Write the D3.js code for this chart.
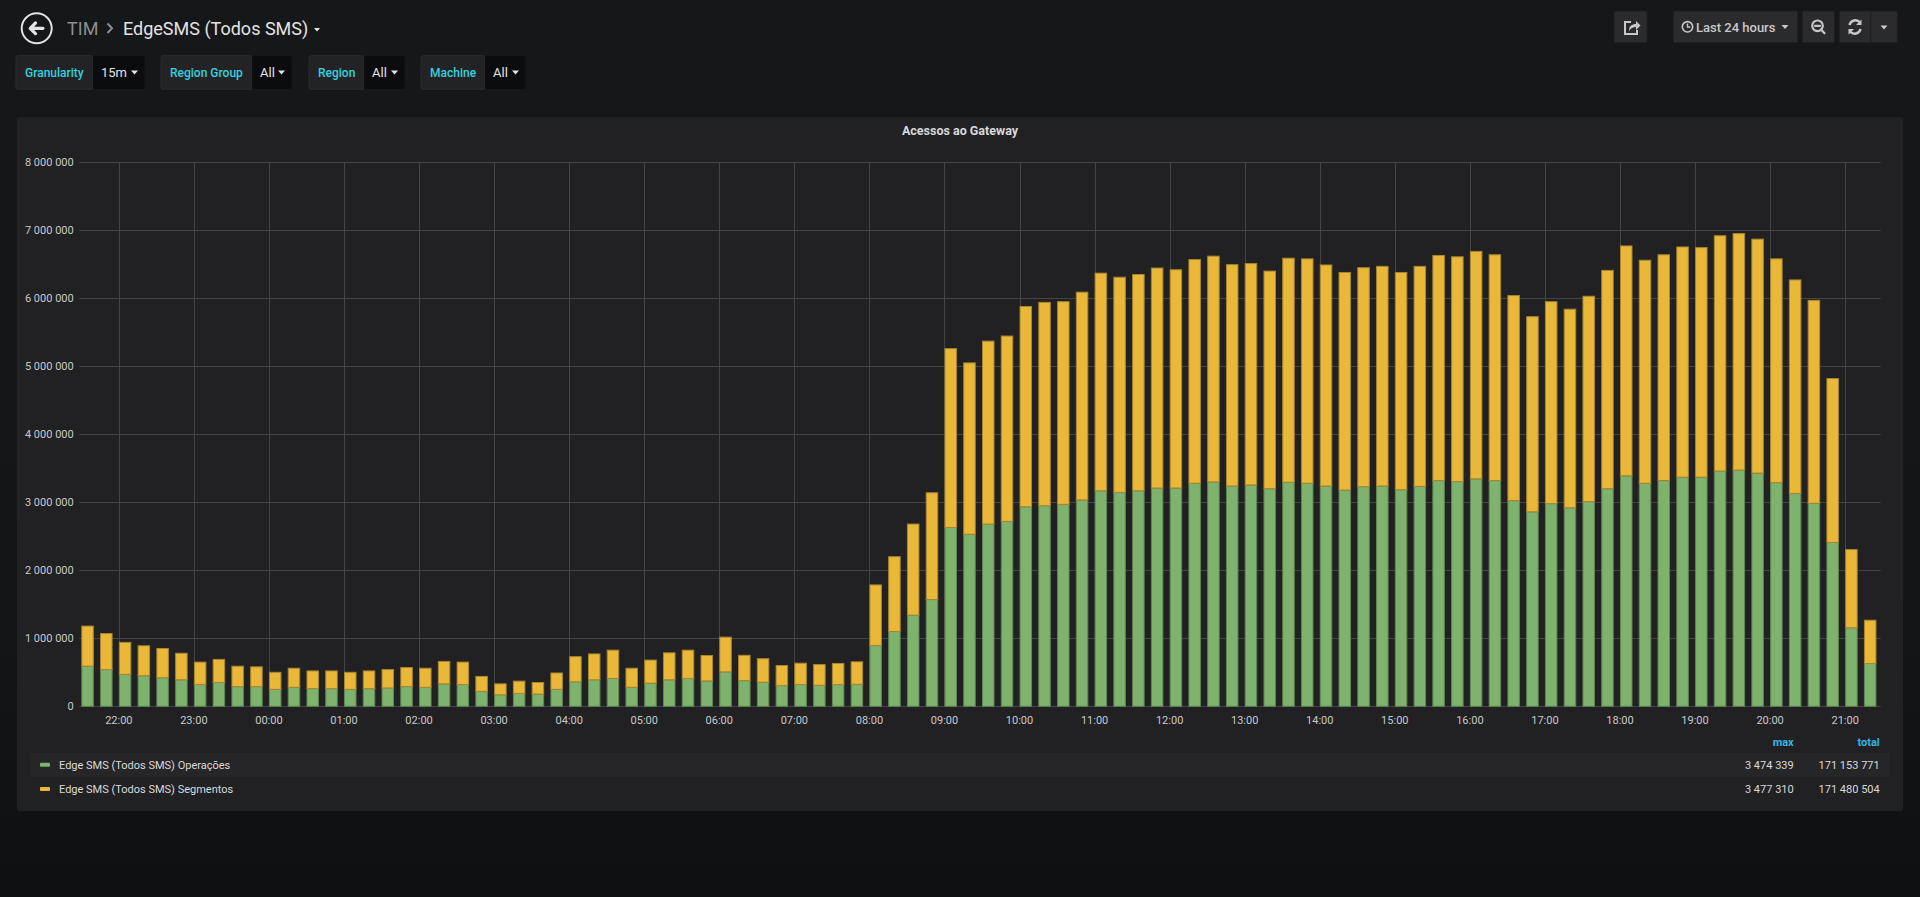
<!DOCTYPE html>
<html>
<head>
<meta charset="utf-8">
<title>EdgeSMS (Todos SMS)</title>
<style>
  html, body { margin: 0; padding: 0; overflow: hidden; background: #161719; }
  body { background: linear-gradient(#161719 0%, #141517 70%, #0f1012 100%); }
  svg { display: block; font-family: Roboto, "Helvetica Neue", Arial, sans-serif; }
</style>
</head>
<body>
<svg id="dash" width="1920" height="897"></svg>
<script src="https://cdn.jsdelivr.net/npm/d3@7"></script>
<script>
// series, one value per 15 minute bucket, first bucket 21:30
var seriesNames = ["Edge SMS (Todos SMS) Operações", "Edge SMS (Todos SMS) Segmentos"];
var seriesColors = ["#7eb26d", "#eab839"];
var seriesEdges = ["#5f8452", "#a8862e"];

var operacoes = [
  590000, 540000, 470000, 450000, 420000, 390000, 320000, 350000, 290000, 290000,
  250000, 280000, 260000, 260000, 250000, 260000, 270000, 290000, 280000, 330000,
  320000, 220000, 170000, 190000, 180000, 250000, 360000, 390000, 410000, 280000,
  340000, 390000, 410000, 373000, 506000, 378000, 354000, 305000, 320000, 310000,
  320000, 324000, 894000, 1100000, 1340000, 1570000, 2630000, 2530000, 2680000, 2720000,
  2935000, 2950000, 2970000, 3035000, 3170000, 3145000, 3170000, 3210000, 3210000, 3280000,
  3300000, 3240000, 3255000, 3200000, 3295000, 3280000, 3240000, 3180000, 3230000, 3240000,
  3185000, 3235000, 3320000, 3305000, 3345000, 3320000, 3025000, 2860000, 2980000, 2920000,
  3010000, 3200000, 3390000, 3280000, 3320000, 3370000, 3370000, 3460000, 3474339, 3430000,
  3290000, 3130000, 2985000, 2410000, 1155000, 630000
];
var segmentos = [
  590000, 530000, 470000, 440000, 430000, 390000, 330000, 340000, 300000, 290000,
  250000, 280000, 260000, 260000, 250000, 260000, 270000, 280000, 280000, 330000,
  330000, 220000, 160000, 180000, 170000, 240000, 370000, 380000, 416000, 280000,
  340000, 396000, 416000, 374000, 511000, 372000, 346000, 295000, 314000, 304000,
  310000, 330000, 891000, 1100000, 1340000, 1570000, 2630000, 2520000, 2690000, 2725000,
  2945000, 2990000, 2980000, 3055000, 3200000, 3165000, 3180000, 3235000, 3210000, 3290000,
  3320000, 3255000, 3255000, 3200000, 3295000, 3300000, 3250000, 3200000, 3220000, 3230000,
  3195000, 3235000, 3310000, 3305000, 3345000, 3320000, 3015000, 2870000, 2970000, 2920000,
  3020000, 3210000, 3380000, 3280000, 3320000, 3385000, 3375000, 3460000, 3477310, 3440000,
  3290000, 3140000, 2985000, 2410000, 1150000, 636000
];
var legendMax = [3474339, 3477310];
var legendTotal = [171153771, 171480504];
var yTicks = [0, 1000000, 2000000, 3000000, 4000000, 5000000, 6000000, 7000000, 8000000];

var rangeStart = new Date(2018, 5, 11, 21, 28, 24);
var rangeEnd = new Date(2018, 5, 12, 21, 28, 24);
var firstBucket = new Date(2018, 5, 11, 21, 30, 0);
var bucketMinutes = 15;

var variables = [
  { label: "Granularity", value: "15m", x0: 16, x1: 93, x2: 145 },
  { label: "Region Group", value: "All", x0: 161, x1: 252, x2: 292 },
  { label: "Region", value: "All", x0: 309, x1: 364, x2: 405 },
  { label: "Machine", value: "All", x0: 421, x1: 485, x2: 526 }
];

var svg = d3.select("#dash");
var fmt = d3.formatLocale({ decimal: ",", thousands: " ", grouping: [3], currency: ["", ""] }).format(",d");

// ---------- top bar ----------
var header = svg.append("g");
header.append("circle").attr("cx", 36.7).attr("cy", 28.3).attr("r", 15)
  .attr("fill", "none").attr("stroke", "#e3e3e3").attr("stroke-width", 2);
header.append("path").attr("d", "M30.5,28.3 H43 M35.5,23 L30.2,28.3 L35.5,33.6")
  .attr("fill", "none").attr("stroke", "#e3e3e3").attr("stroke-width", 3.2)
  .attr("stroke-linecap", "round").attr("stroke-linejoin", "round");
header.append("text").attr("x", 67).attr("y", 34.5).attr("font-size", 18)
  .attr("fill", "#8e8e8e").text("TIM");
header.append("path").attr("d", "M107.5,23.5 L112,28.3 L107.5,33")
  .attr("fill", "none").attr("stroke", "#8e8e8e").attr("stroke-width", 2);
header.append("text").attr("x", 123).attr("y", 34.5).attr("font-size", 18)
  .attr("fill", "#e3e3e3").text("EdgeSMS (Todos SMS)");
header.append("path").attr("d", "M314,28 h6 l-3,3.5 z").attr("fill", "#e3e3e3");

// variables
variables.forEach(function(v) {
  var g = svg.append("g");
  g.append("rect").attr("x", v.x0).attr("y", 55.7).attr("width", v.x1 - v.x0).attr("height", 33.6)
    .attr("rx", 2).attr("fill", "#232326").attr("stroke", "#2c2c2f");
  g.append("rect").attr("x", v.x1).attr("y", 56.2).attr("width", v.x2 - v.x1 - 0.5).attr("height", 32.6)
    .attr("fill", "#0b0c0e");
  g.append("text").attr("x", v.x0 + 9).attr("y", 76.6).attr("font-size", 12).attr("font-weight", 500)
    .attr("fill", "#32d1df").text(v.label);
  g.append("text").attr("x", v.x1 + 8).attr("y", 77).attr("font-size", 13)
    .attr("fill", "#e3e3e3").text(v.value);
  g.append("path").attr("d", "M" + (v.x2 - 14) + ",70.5 h7 l-3.5,4 z").attr("fill", "#e3e3e3");
});

// right toolbar
function btn(x0, x1) {
  svg.append("rect").attr("x", x0).attr("y", 11).attr("width", x1 - x0).attr("height", 31.7)
    .attr("rx", 2).attr("fill", "#2b2b2e").attr("stroke", "#1f1f22");
}
btn(1614, 1647);
btn(1673.3, 1797.7);
btn(1802.3, 1834.7);
btn(1839.3, 1897.3);
svg.append("line").attr("x1", 1870.7).attr("x2", 1870.7).attr("y1", 11).attr("y2", 42.7)
  .attr("stroke", "#1f1f22");
var ic = "#c8c8c8";
// share icon
svg.append("path").attr("d", "M1631,22 h-6 v12 h12 v-4")
  .attr("fill", "none").attr("stroke", ic).attr("stroke-width", 2);
svg.append("path").attr("d", "M1629,31 c0,-5 3,-7 7,-7 v-3 l4.5,4.5 l-4.5,4.5 v-3 c-3,0 -5,1 -7,4 z")
  .attr("fill", ic);
// clock
svg.append("circle").attr("cx", 1687.5).attr("cy", 26.8).attr("r", 5.2)
  .attr("fill", "none").attr("stroke", ic).attr("stroke-width", 1.6);
svg.append("path").attr("d", "M1687.5,23.5 v3.5 h2.8").attr("fill", "none").attr("stroke", ic).attr("stroke-width", 1.4);
svg.append("text").attr("x", 1696).attr("y", 31.5).attr("font-size", 13).attr("font-weight", 500)
  .attr("fill", ic).text("Last 24 hours");
svg.append("path").attr("d", "M1781.5,25 h7 l-3.5,4 z").attr("fill", ic);
// zoom out
svg.append("circle").attr("cx", 1817.5).attr("cy", 25.8).attr("r", 5.3)
  .attr("fill", "none").attr("stroke", ic).attr("stroke-width", 2.2);
svg.append("path").attr("d", "M1821,29.5 l3.5,3.8 M1815,25.8 h5").attr("stroke", ic)
  .attr("stroke-width", 2.2).attr("stroke-linecap", "round");
// refresh
svg.append("path").attr("d", "M1849.5,25 a6,6 0 0 1 10.5,-2.5 M1860.5,29 a6,6 0 0 1 -10.5,2.5")
  .attr("fill", "none").attr("stroke", ic).attr("stroke-width", 2.4);
svg.append("path").attr("d", "M1861.5,19.5 v5.5 h-5.5 z M1848.5,34.5 v-5.5 h5.5 z").attr("fill", ic);
svg.append("path").attr("d", "M1880.5,25.5 h7 l-3.5,4 z").attr("fill", ic);

// ---------- panel ----------
svg.append("rect").attr("x", 17).attr("y", 117).attr("width", 1886).attr("height", 694)
  .attr("rx", 2).attr("fill", "#212124");
svg.append("text").attr("x", 960).attr("y", 131).attr("dy", "0.35em").attr("text-anchor", "middle")
  .attr("font-size", 12.5).attr("font-weight", 700).attr("fill", "#d8d9da").text("Acessos ao Gateway");

var x = d3.scaleTime().domain([rangeStart, rangeEnd]).range([79.3, 1880.7]);
var y = d3.scaleLinear().domain([0, 8000000]).range([706.3, 162.3]);

var grid = svg.append("g").attr("stroke", "#444447").attr("stroke-width", 1);
var hours = x.ticks(d3.timeHour.every(1));
grid.selectAll("line.h").data(yTicks).enter().append("line")
  .attr("x1", x.range()[0]).attr("x2", x.range()[1])
  .attr("y1", function(d) { return Math.round(y(d)) + 0.5; })
  .attr("y2", function(d) { return Math.round(y(d)) + 0.5; });
grid.selectAll("line.v").data(hours).enter().append("line")
  .attr("y1", y(8000000)).attr("y2", y(0))
  .attr("x1", function(d) { return Math.round(x(d)) + 0.5; })
  .attr("x2", function(d) { return Math.round(x(d)) + 0.5; });

svg.append("g").selectAll("text").data(yTicks).enter().append("text")
  .attr("x", 73.7).attr("y", function(d) { return y(d); }).attr("dy", "0.35em")
  .attr("text-anchor", "end").attr("font-size", 11).attr("fill", "#c8c9ca")
  .text(function(d) { return fmt(d); });

var hourFmt = d3.timeFormat("%H:%M");
svg.append("g").selectAll("text").data(hours).enter().append("text")
  .attr("x", function(d) { return x(d); }).attr("y", 720).attr("dy", "0.35em")
  .attr("text-anchor", "middle").attr("font-size", 11).attr("fill", "#c8c9ca")
  .text(function(d) { return hourFmt(d); });

// stacked bars
var rows = operacoes.map(function(v, i) {
  return { t: d3.timeMinute.offset(firstBucket, i * bucketMinutes), op: v, seg: segmentos[i] };
});
var stack = d3.stack().keys(["op", "seg"])(rows);
var barW = x(d3.timeMinute.offset(firstBucket, 10)) - x(firstBucket);

svg.append("g").selectAll("g").data(stack).enter().append("g")
  .attr("fill", function(d, i) { return seriesColors[i]; })
  .attr("stroke", function(d, i) { return seriesEdges[i]; })
  .attr("stroke-width", 1)
  .selectAll("rect").data(function(d) { return d; }).enter().append("rect")
  .attr("x", function(d) { return x(d.data.t) + 0.5; })
  .attr("width", barW - 1)
  .attr("y", function(d) { return y(d[1]); })
  .attr("height", function(d) { return Math.max(0, y(d[0]) - y(d[1])); });

// ---------- legend ----------
var lg = svg.append("g").attr("font-size", 11);
lg.append("text").attr("x", 1793.7).attr("y", 742).attr("dy", "0.35em").attr("text-anchor", "end")
  .attr("font-weight", 700).attr("fill", "#33b5e5").text("max");
lg.append("text").attr("x", 1879.7).attr("y", 742).attr("dy", "0.35em").attr("text-anchor", "end")
  .attr("font-weight", 700).attr("fill", "#33b5e5").text("total");
seriesNames.forEach(function(name, i) {
  var cy = 764.7 + i * 24.3;
  if (i === 0) {
    lg.append("rect").attr("x", 30).attr("y", 753).attr("width", 1860).attr("height", 24)
      .attr("fill", "#262629");
  }
  lg.append("rect").attr("x", 40).attr("y", cy - 2).attr("width", 10).attr("height", 4)
    .attr("rx", 1).attr("fill", seriesColors[i]);
  lg.append("text").attr("x", 59).attr("y", cy).attr("dy", "0.35em")
    .attr("fill", "#d8d9da").text(name);
  lg.append("text").attr("x", 1793.7).attr("y", cy).attr("dy", "0.35em").attr("text-anchor", "end")
    .attr("fill", "#d8d9da").text(fmt(legendMax[i]));
  lg.append("text").attr("x", 1879.7).attr("y", cy).attr("dy", "0.35em").attr("text-anchor", "end")
    .attr("fill", "#d8d9da").text(fmt(legendTotal[i]));
});
</script>
</body>
</html>
